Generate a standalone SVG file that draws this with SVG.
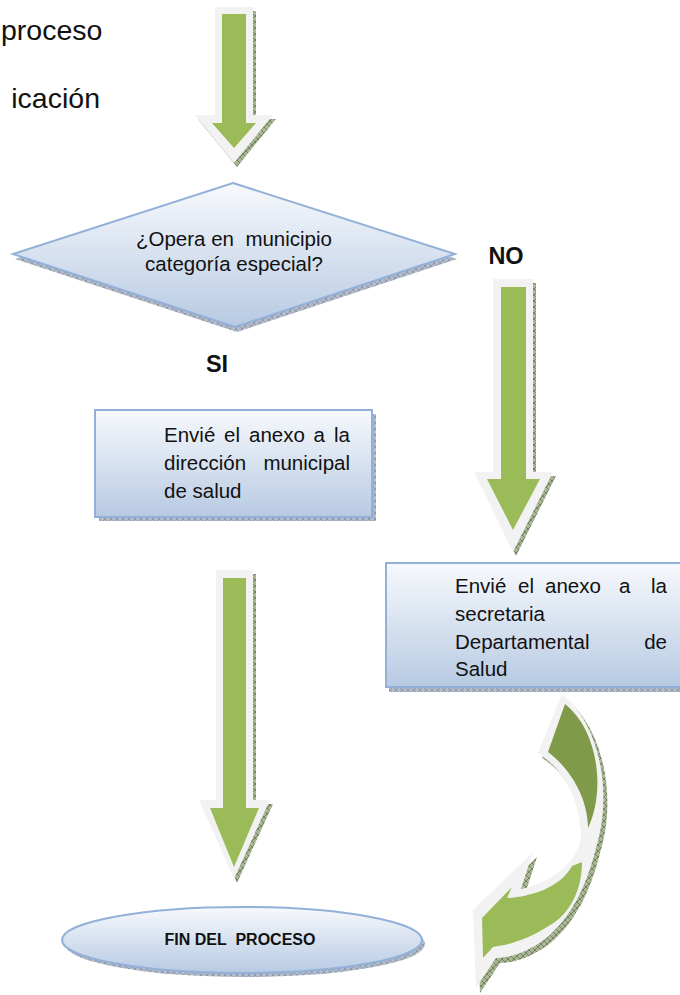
<svg xmlns="http://www.w3.org/2000/svg" width="680" height="995" viewBox="0 0 680 995">
<defs>
  <linearGradient id="gBlue" x1="0" y1="0" x2="0" y2="1">
    <stop offset="0" stop-color="#f7f9fc"/>
    <stop offset="1" stop-color="#b7cae3"/>
  </linearGradient>
  <pattern id="hBlue" width="6" height="6" patternUnits="userSpaceOnUse">
    <rect width="6" height="6" fill="#b3bccb"/>
    <path d="M0,0 L6,6 M6,0 L0,6" stroke="#7f8a9c" stroke-width="0.7"/>
  </pattern>
  <pattern id="hGreen" width="6" height="6" patternUnits="userSpaceOnUse">
    <rect width="6" height="6" fill="#aab797"/>
    <path d="M0,0 L6,6 M6,0 L0,6" stroke="#5e6e45" stroke-width="0.7"/>
  </pattern>
  <style>
    .txt{font-family:"Liberation Sans",Arial,sans-serif;fill:#111;}
    .body{font-size:20.5px;}
    .big{font-size:28.5px;}
    .lbl{font-size:23.5px;font-weight:bold;}
    .fin{font-size:16px;font-weight:bold;}
    .shape{fill:url(#gBlue);stroke:#93b1d8;stroke-width:2;}
    .shadowB{fill:url(#hBlue);}
    .shadowG{fill:url(#hGreen);}
    .border{fill:#f2f2f2;}
    .green{fill:#9bbb59;}
    .dark{fill:#7f9a48;}
  </style>
</defs>
<rect width="680" height="995" fill="#ffffff"/>

<g id="fragment-text">
  <text class="txt big" x="1" y="40">proceso</text>
  <text class="txt big" x="100" y="108" text-anchor="end">icación</text>
</g>

<g id="connectors">
  <g id="arrow-top">
    <polygon class="shadowG" transform="translate(3,4)" points="215,7 253,7 253,115 273,115 234,163 195,115 215,115"/>
    <polygon class="border" points="215,7 253,7 253,115 273,115 234,163 195,115 215,115"/>
    <polygon class="green" points="222,14 246,14 246,123 256,123 234,148 212,123 222,123"/>
  </g>
  <g id="arrow-no">
    <polygon class="shadowG" transform="translate(3,4)" points="493,279 533,279 533,472 553,472 513,552 474,472 493,472"/>
    <polygon class="border" points="493,279 533,279 533,472 553,472 513,552 474,472 493,472"/>
    <polygon class="green" points="501,287 526,287 526,479 540,479 513,530 487,479 501,479"/>
  </g>
  <g id="arrow-si">
    <polygon class="shadowG" transform="translate(3,4)" points="216,570 253,570 253,800 270,800 234,879 199,800 216,800"/>
    <polygon class="border" points="216,570 253,570 253,800 270,800 234,879 199,800 216,800"/>
    <polygon class="green" points="223,578 246,578 246,808 259,808 234,867 210,808 223,808"/>
  </g>
  <g id="arrow-curved">
    <path class="shadowG" transform="translate(4,5)" d="M562,694 C598,722 614,790 596,848 C588,880 575,912 550,935 C530,952 510,958 496,958 L476,988 L473,910 L533,852 L521,889 C540,885 560,875 573,858 C582,845 582,832 580,826 C578,800 565,770 538,753 Z"/>
    <path class="border" d="M562,694 C598,722 614,790 596,848 C588,880 575,912 550,935 C530,952 510,958 496,958 L476,988 L473,910 L533,852 L521,889 C540,885 560,875 573,858 C582,845 582,832 580,826 C578,800 565,770 538,753 Z"/>
    <path class="dark" d="M565,704 C598,730 606,790 588,828 C588,800 572,770 548,752 Z"/>
    <path class="green" d="M582,862 C582,890 570,915 547,927 C530,938 510,945 493,947 L483,958 L482,918 L512,887 L507,898 C530,897 560,888 572,866 Z"/>
  </g>
</g>

<g id="decision">
  <polygon class="shadowB" transform="translate(2,5)" points="233,183 455,254 235,327 13,254"/>
  <polygon class="shape" points="233,183 455,254 235,327 13,254"/>
  <text class="txt body" x="234" y="246" text-anchor="middle" xml:space="preserve">¿Opera en  municipio</text>
  <text class="txt body" x="234" y="271" text-anchor="middle">categoría especial?</text>
</g>

<g id="label-no">
  <text class="txt lbl" x="506" y="264" text-anchor="middle">NO</text>
</g>
<g id="label-si">
  <text class="txt lbl" x="217" y="372" text-anchor="middle">SI</text>
</g>

<g id="box-municipal">
  <rect class="shadowB" x="99" y="414" width="277" height="107"/>
  <rect class="shape" x="95" y="410" width="277" height="107"/>
  <text class="txt body" y="442"><tspan x="164">Envié</tspan><tspan x="224">el</tspan><tspan x="249">anexo</tspan><tspan x="313.5">a</tspan><tspan x="334">la</tspan></text>
  <text class="txt body" y="470"><tspan x="164">dirección</tspan><tspan x="350" text-anchor="end">municipal</tspan></text>
  <text class="txt body" x="164" y="498">de salud</text>
</g>

<g id="box-departamental">
  <rect class="shadowB" x="389" y="567" width="300" height="125"/>
  <rect class="shape" x="386" y="563" width="300" height="124"/>
  <text class="txt body" y="593"><tspan x="455">Envié</tspan><tspan x="518">el</tspan><tspan x="545">anexo</tspan><tspan x="619">a</tspan><tspan x="667" text-anchor="end">la</tspan></text>
  <text class="txt body" x="455" y="621">secretaria</text>
  <text class="txt body" y="649"><tspan x="455">Departamental</tspan><tspan x="667" text-anchor="end">de</tspan></text>
  <text class="txt body" x="455" y="676">Salud</text>
</g>

<g id="end">
  <ellipse class="shadowB" cx="245" cy="944" rx="180" ry="33"/>
  <ellipse class="shape" cx="242" cy="940" rx="180" ry="33"/>
  <text class="txt fin" x="240" y="945" text-anchor="middle" xml:space="preserve">FIN DEL  PROCESO</text>
</g>
</svg>
